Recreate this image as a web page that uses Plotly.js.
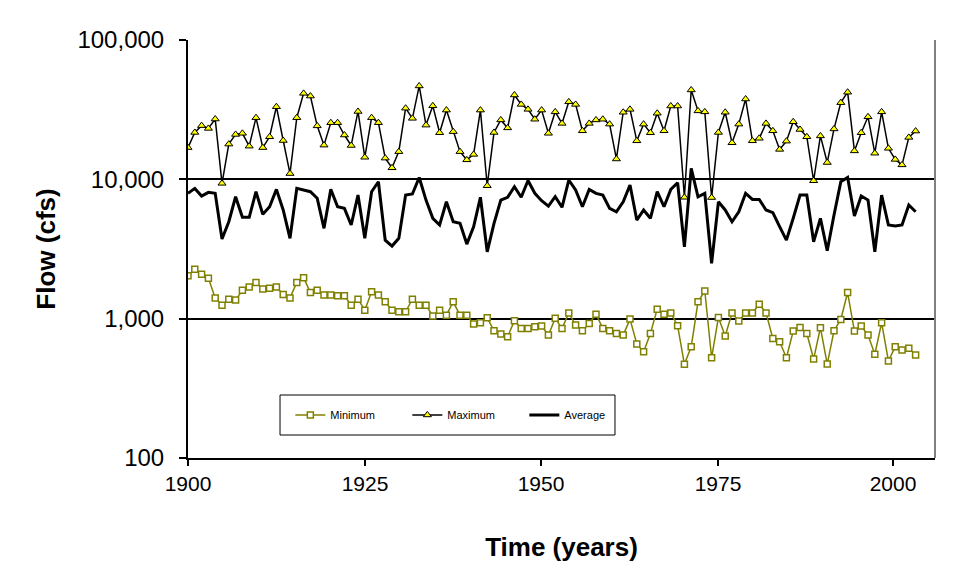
<!DOCTYPE html>
<html>
<head>
<meta charset="utf-8">
<script src="https://cdn.plot.ly/plotly-3.0.1.min.js"></script>
<style>html,body{margin:0;padding:0;background:#fff;}#chart{width:958px;height:575px;}</style>
</head>
<body>
<div id="chart"></div>
<script>
// Years 1900-2007
const startYear = 1900;
const minimumFlow = [2030,2260,2080,1950,1410,1250,1380,1360,1600,1690,1820,1630,1650,1690,1490,1410,1820,1970,1540,1600,
1480,1480,1460,1460,1250,1380,1150,1560,1480,1320,1150,1120,1120,1380,1250,1250,1045,1150,1060,1320,
1060,1060,915,935,1015,818,775,741,966,851,851,875,885,763,1005,851,1100,900,818,925,
1075,851,818,783,763,993,658,578,783,1170,1075,1100,890,470,628,1320,1580,524,1020,750,
1100,962,1100,1100,1270,1100,721,682,524,815,865,783,513,861,472,818,988,1540,815,885,
763,555,935,497,628,596,613,548];
const maximumFlow = [16900,21700,24300,23200,27100,9360,17900,21000,21400,17300,27700,16900,20200,33200,19000,11000,27700,41400,39600,24200,
17600,25500,25500,20800,17500,30700,14400,27700,25500,14200,12100,15800,32400,27400,46800,24500,33700,21600,31400,22000,
15800,13800,15100,31400,9000,21700,26700,23400,40300,34500,31800,27000,31400,21400,30500,25200,36000,34500,22300,25200,
26700,27000,24900,14000,30300,31800,18900,24900,21600,29800,22300,33600,33600,7430,43800,31000,30500,7400,21700,30300,
18300,24900,37700,18900,19700,25200,22300,16400,18800,25900,22800,20200,9770,20500,13200,23000,35500,42200,16000,21600,
28100,15400,30500,16700,13900,12700,20000,22200];
const averageFlow = [7935,8610,7590,8070,7935,3730,4960,7500,5340,5340,8150,5610,6360,8470,6030,3770,8610,8380,8150,7310,
4450,8470,6360,6190,4700,7710,3770,8150,9610,3660,3320,3770,7710,7845,10300,7100,5250,4700,6900,4960,
4830,3430,4570,7430,3020,4830,7100,7430,8850,7430,9800,7935,7020,6430,7500,6300,9890,8380,6360,8470,
7935,7710,6190,5850,6900,9100,5100,6030,5250,8150,6360,8470,9450,3280,12000,7500,7935,2490,6900,6030,
4960,5850,7935,7180,7180,6030,5760,4570,3660,5250,7710,7710,3560,5250,3070,5550,9610,10300,5460,7590,
7100,3020,7710,4700,4620,4700,6540,5850];
const years = minimumFlow.map((_, i) => startYear + i);
// tick labels as placed in the reference picture
const xTickText = ['1900', '1925', '1950', '1975', '2000'];
const xTickVals = [1900, 1926.03, 1951.91, 1977.94, 2003.68];
const yTickVals = [100, 1000, 10000, 100000];
const yTickText = ['100', '1,000', '10,000', '100,000'];

const traces = [
  {x: years, y: minimumFlow, name: 'Minimum', type: 'scatter', mode: 'lines+markers',
   line: {color: '#808000', width: 1.5},
   marker: {symbol: 'square', size: 6, color: '#ffffff', line: {color: '#808000', width: 1.5}}},
  {x: years, y: maximumFlow, name: 'Maximum', type: 'scatter', mode: 'lines+markers',
   line: {color: '#000000', width: 1.5},
   marker: {symbol: 'triangle-up', size: 7, color: '#ffff00', line: {color: '#000000', width: 1}}},
  {x: years, y: averageFlow, name: 'Average', type: 'scatter', mode: 'lines',
   line: {color: '#000000', width: 3}}
];

const layout = {
  width: 958, height: 575,
  margin: {l: 188, r: 23, t: 40, b: 117},
  paper_bgcolor: '#ffffff', plot_bgcolor: '#ffffff',
  font: {family: 'Liberation Sans, Arial, sans-serif', color: '#000000'},
  showlegend: true,
  legend: {orientation: 'h', x: 0.137, y: 0.103, xanchor: 'left', yanchor: 'middle',
    bgcolor: 'rgba(0,0,0,0)', borderwidth: 0,
    font: {size: 11, color: '#000000'}, entrywidth: 72, entrywidthmode: 'pixels', traceorder: 'normal'},
  xaxis: {
    range: [1900, 2009.85], tickvals: xTickVals, ticktext: xTickText,
    showgrid: false, zeroline: false, showline: true, linecolor: '#000000', linewidth: 2,
    ticks: 'outside', ticklen: 6, tickcolor: '#000000', tickwidth: 2,
    tickfont: {size: 21, color: '#000000'},
    title: {text: 'Time (years)', font: {size: 26, color: '#000000', weight: 'bold'}, standoff: 44}
  },
  yaxis: {
    type: 'log', range: [2, 5], tickvals: yTickVals, ticktext: yTickText,
    showgrid: true, gridcolor: '#000000', gridwidth: 2, zeroline: false,
    showline: true, linecolor: '#000000', linewidth: 2,
    ticks: 'outside', ticklen: 7, tickcolor: '#000000', tickwidth: 2, ticklabelstandoff: 10,
    tickfont: {size: 24, color: '#000000'},
    title: {text: 'Flow (cfs)', font: {size: 26, color: '#000000', weight: 'bold'}, standoff: 14}
  },
  shapes: [
    {type: 'rect', xref: 'paper', yref: 'paper', x0: 0.1232, x1: 0.5716, y0: 0.055, y1: 0.1507,
     line: {color: '#000000', width: 1}, fillcolor: '#ffffff', layer: 'above'},
    {type: 'line', xref: 'paper', yref: 'paper', x0: 1, x1: 1, y0: 0, y1: 1,
     line: {color: '#808080', width: 2}}
  ]
};

Plotly.newPlot('chart', traces, layout, {staticPlot: true, displayModeBar: false});
</script>
</body>
</html>
